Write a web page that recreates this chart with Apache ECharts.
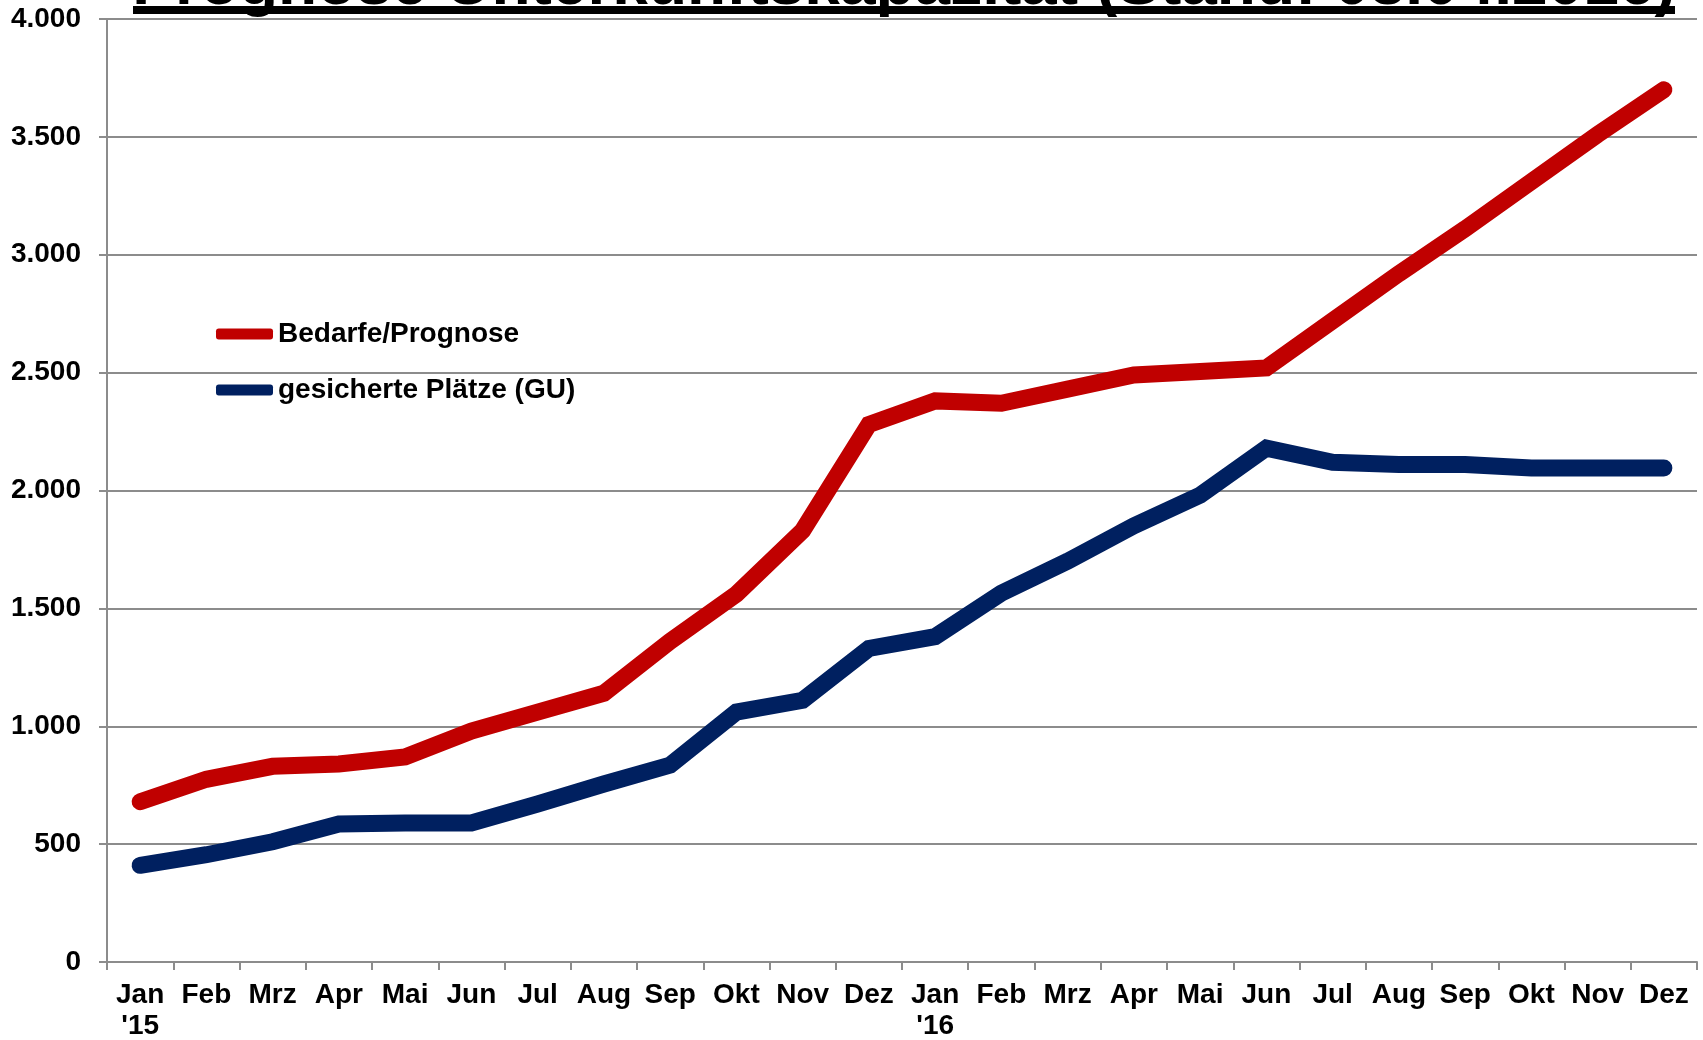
<!DOCTYPE html>
<html>
<head>
<meta charset="utf-8">
<script src="https://cdn.jsdelivr.net/npm/echarts@6/dist/echarts.min.js"></script>
<style>
html,body{margin:0;padding:0;background:#fff;}
#chart{width:1703px;height:1040px;}
</style>
</head>
<body>
<div id="chart"></div>
<script>
const titleText = 'Prognose Unterkunftskapazität (Stand: 08.04.2016)';
const categories = ['Jan\n\'15','Feb','Mrz','Apr','Mai','Jun','Jul','Aug','Sep','Okt','Nov','Dez',
                    'Jan\n\'16','Feb','Mrz','Apr','Mai','Jun','Jul','Aug','Sep','Okt','Nov','Dez'];
const seriesNames = ['Bedarfe/Prognose', 'gesicherte Plätze (GU)'];
const bedarfe = [680, 775, 830, 840, 870, 980, 1060, 1140, 1360, 1560, 1830, 2280,
                 2380, 2370, 2430, 2490, 2505, 2520, 2720, 2920, 3110, 3310, 3510, 3700];
const gesichert = [410, 455, 510, 585, 590, 590, 670, 755, 835, 1060, 1110, 1330,
                   1380, 1565, 1700, 1850, 1980, 2180, 2120, 2110, 2110, 2095, 2095, 2095];
const yTicks = {min: 0, max: 4000, interval: 500};

const chart = echarts.init(document.getElementById('chart'));
const font = '"Liberation Sans", Arial, sans-serif';
chart.setOption({
  animation: false,
  backgroundColor: '#ffffff',
  graphic: [
    {type: 'text', x: 904, y: -14, style: {text: titleText, font: 'bold 64px ' + font, fill: '#000', align: 'center', verticalAlign: 'middle'}},
    {type: 'rect', shape: {x: 133, y: 6, width: 1542, height: 8}, style: {fill: '#000'}}
  ],
  legend: {
    orient: 'vertical',
    left: 211, top: 315,
    itemWidth: 57, itemHeight: 11, itemGap: 28,
    icon: 'roundRect',
    textStyle: {fontFamily: font, fontWeight: 'bold', fontSize: 28, color: '#000', lineHeight: 26},
    data: seriesNames
  },
  grid: {left: 107, right: 6, top: 19, bottom: 78, outerBoundsMode: 'none', containLabel: false},
  xAxis: {
    type: 'category',
    data: categories,
    boundaryGap: true,
    axisLine: {lineStyle: {color: '#8c8c8c', width: 2}},
    axisTick: {show: true, length: 8, lineStyle: {color: '#8c8c8c', width: 2}},
    axisLabel: {interval: 0, margin: 18, fontFamily: font, fontWeight: 'bold', fontSize: 28, color: '#000', lineHeight: 31}
  },
  yAxis: {
    type: 'value',
    min: yTicks.min, max: yTicks.max, interval: yTicks.interval,
    axisLine: {show: true, lineStyle: {color: '#8c8c8c', width: 2}},
    axisTick: {show: true, length: 8, lineStyle: {color: '#8c8c8c', width: 2}},
    splitLine: {lineStyle: {color: '#8c8c8c', width: 2}},
    axisLabel: {margin: 26, fontFamily: font, fontWeight: 'bold', fontSize: 28, color: '#000',
      formatter: v => v >= 1000 ? Math.floor(v/1000) + '.' + String(v % 1000).padStart(3, '0') : String(v)}
  },
  series: [
    {name: seriesNames[0], type: 'line', data: bedarfe, showSymbol: false, symbol: 'none', color: '#C00000',
     lineStyle: {width: 17, color: '#C00000', cap: 'round', join: 'miter'}},
    {name: seriesNames[1], type: 'line', data: gesichert, showSymbol: false, symbol: 'none', color: '#002060',
     lineStyle: {width: 17, color: '#002060', cap: 'round', join: 'miter'}}
  ]
});
</script>
</body>
</html>
